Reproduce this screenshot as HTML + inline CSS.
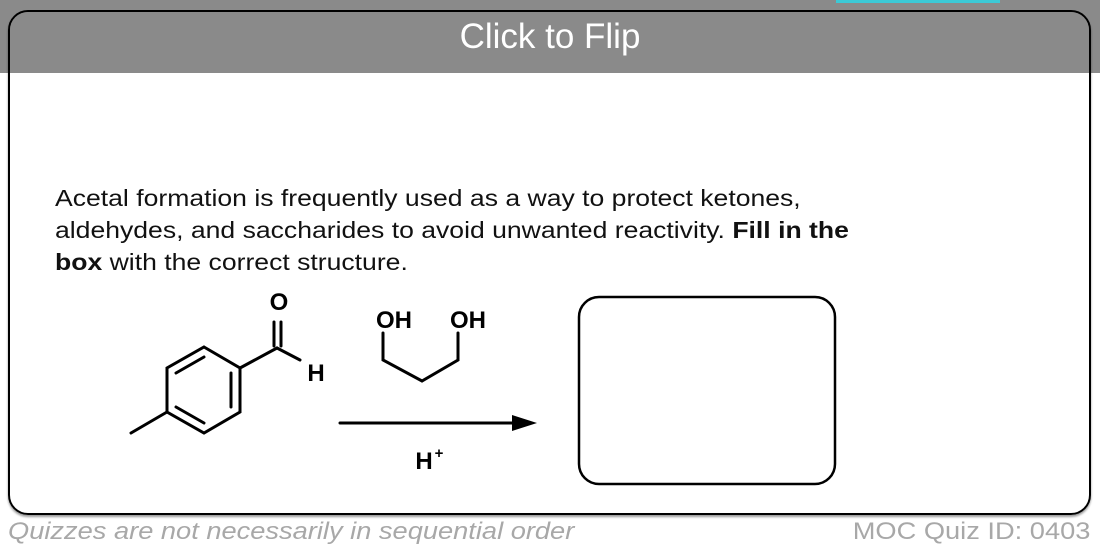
<!DOCTYPE html>
<html><head><meta charset="utf-8"><style>
html,body{margin:0;padding:0;width:1100px;height:555px;overflow:hidden;background:#fff;font-family:"Liberation Sans",Arial,sans-serif;}
.hdr{position:absolute;left:0;top:0;width:1100px;height:73px;background:#8a8a8a;}
.teal{position:absolute;left:836px;top:0;width:164px;height:3px;background:#3cc9d6;}
.card{position:absolute;left:8px;top:10px;width:1079px;height:501px;border:2px solid #000;border-radius:20px;box-shadow:0 2px 2px rgba(0,0,0,.4);}
.cover{position:absolute;left:10px;top:12px;width:1079px;height:61px;background:#8a8a8a;border-radius:18px 18px 0 0;}
.title{position:absolute;left:0;top:17px;width:1100px;text-align:center;color:#fff;font-size:35px;}
.q{position:absolute;left:55px;top:182px;font-size:23px;line-height:32px;color:#111;transform:scaleX(1.155);transform-origin:0 0;white-space:nowrap;}
.foot{position:absolute;top:518px;font-size:24px;color:#a8a8a8;white-space:nowrap;}
</style></head><body>
<div class="hdr"></div><div class="teal"></div>
<div class="card"></div>
<div class="cover"></div>
<div class="title">Click to Flip</div>
<div class="q">Acetal formation is frequently used as a way to protect ketones,<br>aldehydes, and saccharides to avoid unwanted reactivity. <b>Fill in the<br>box</b> with the correct structure.</div>
<svg style="position:absolute;left:0;top:0" width="1100" height="555">
<g stroke="#000" stroke-width="3" fill="none" stroke-linecap="round">
<polygon points="204,347 240,368 240,412 204,433 167,412 167,368"/>
<line x1="204" y1="357" x2="176" y2="373"/>
<line x1="231" y1="373" x2="231" y2="407"/>
<line x1="204" y1="423" x2="176" y2="407"/>
<line x1="167" y1="412" x2="131" y2="433"/>
<line x1="240" y1="368" x2="277" y2="348"/>
<line x1="277" y1="348" x2="300" y2="360"/>
<line x1="274" y1="346" x2="274" y2="322"/>
<line x1="281" y1="346" x2="281" y2="322"/>
<polyline points="383,333 383,360 422,381 458,360 458,333"/>
<line x1="340" y1="423" x2="520" y2="423"/>
</g>
<polygon points="537,423 512,415 512,431" fill="#000"/>
<rect x="579" y="297" width="256" height="187" rx="20" fill="none" stroke="#000" stroke-width="2.5"/>
<g font-family="Liberation Sans,Arial,sans-serif" font-weight="bold" font-size="24" fill="#000" text-anchor="middle">
<text x="279" y="310">O</text>
<text x="316" y="381">H</text>
<text x="394" y="328">OH</text>
<text x="468" y="328">OH</text>
<text x="424" y="469">H</text>
<text x="439" y="458" font-size="15">+</text>
</g>
</svg>
<div class="foot" style="left:8px;font-style:italic;transform:scaleX(1.135);transform-origin:0 0;">Quizzes are not necessarily in sequential order</div>
<div class="foot" style="right:10px;transform:scaleX(1.135);transform-origin:100% 0;">MOC Quiz ID: 0403</div>
</body></html>
